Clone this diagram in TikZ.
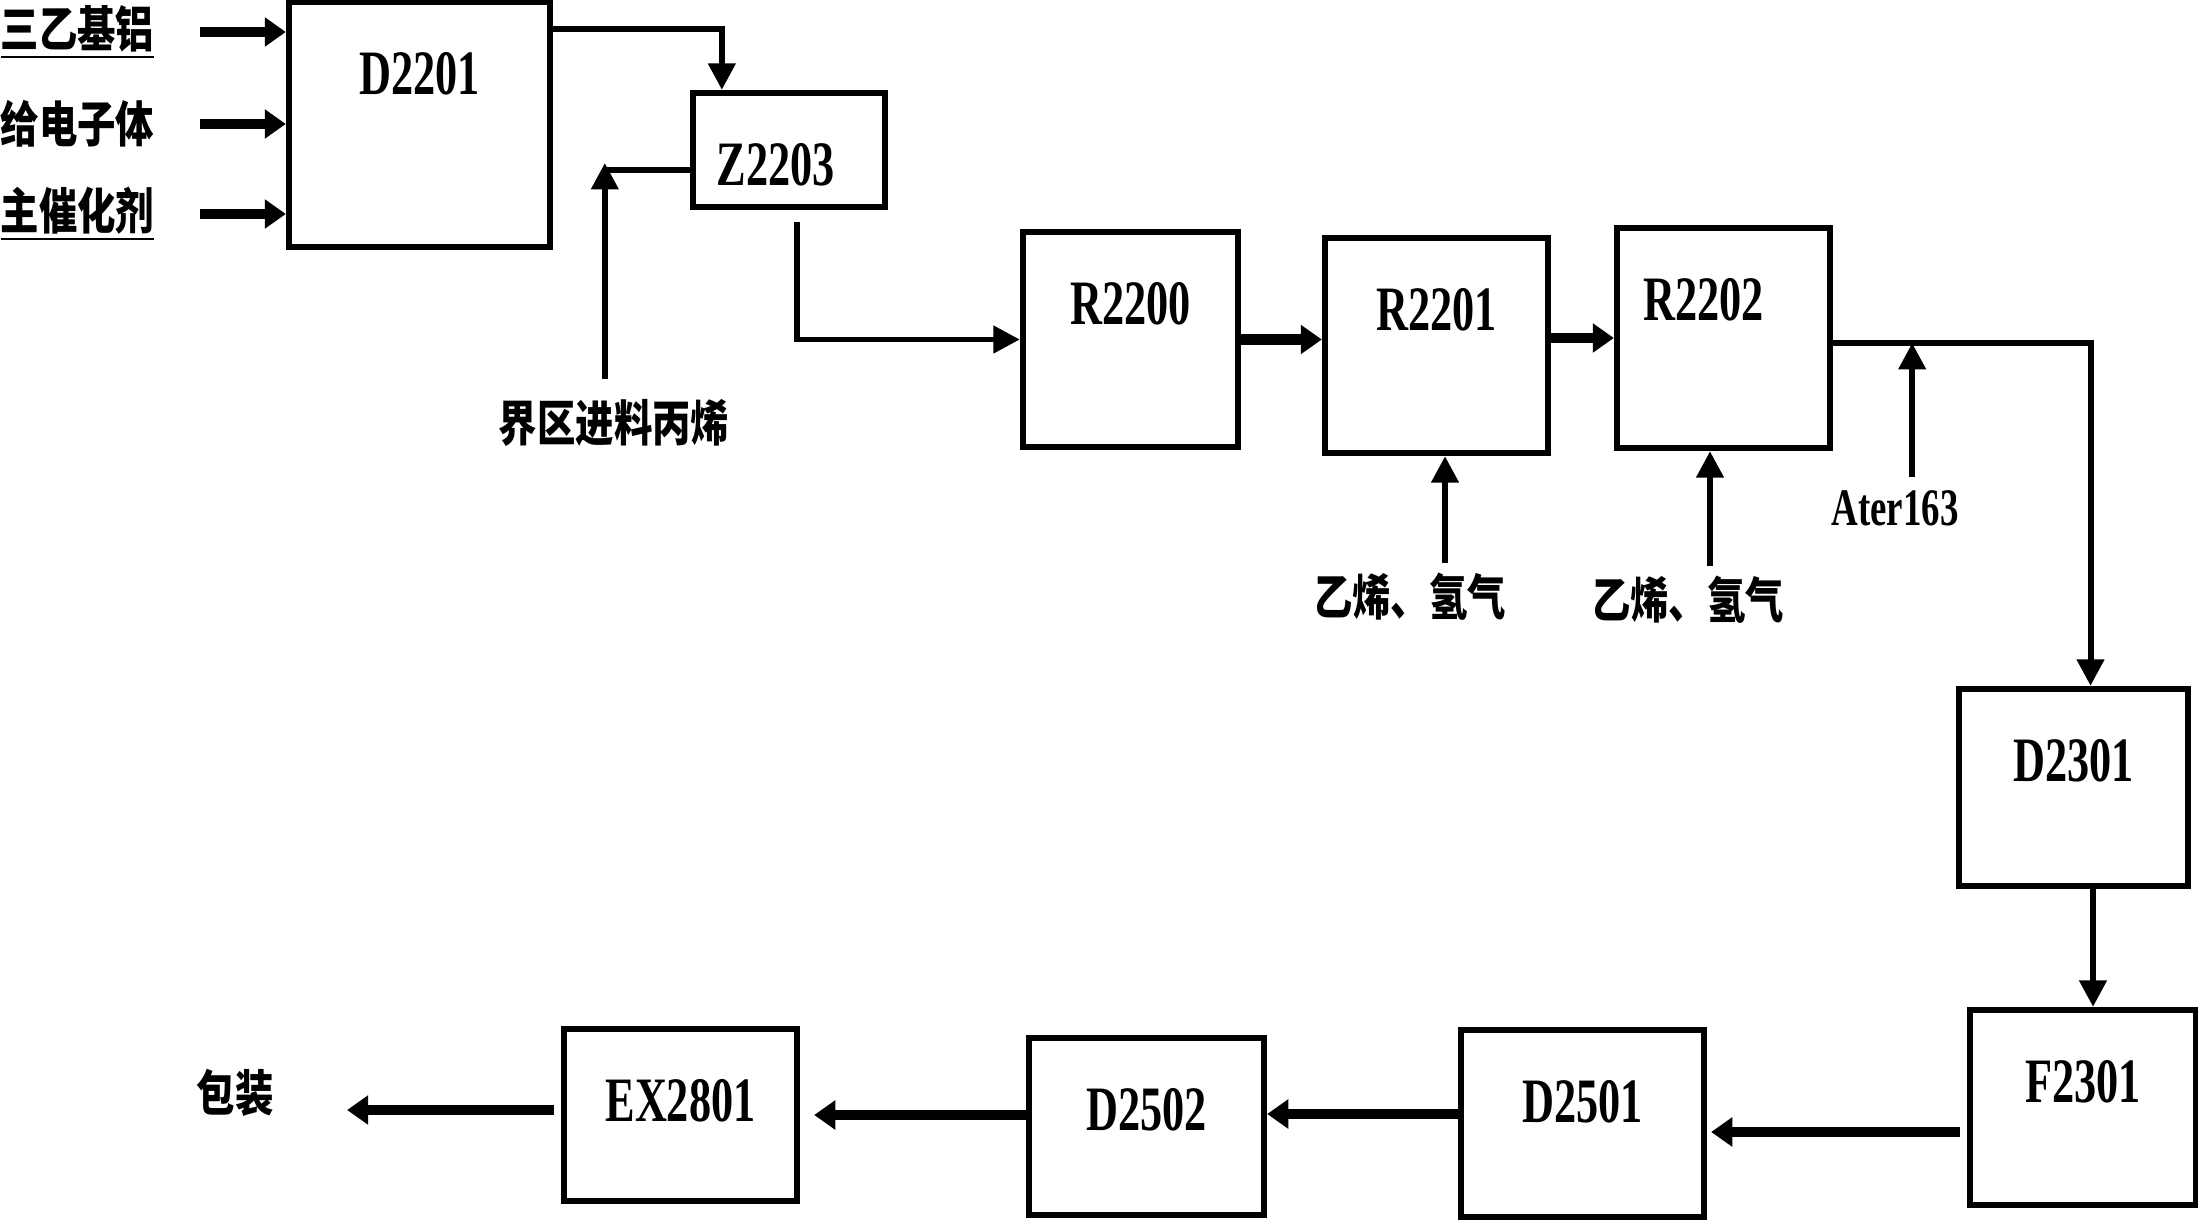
\documentclass[tikz,border=0pt]{standalone}
\usepackage{fontspec}
\setmainfont{Liberation Serif}
\newfontfamily\tagfont[FakeStretch=0.7]{Liberation Serif}
\newfontfamily\cjk[FakeStretch=0.78]{Noto Sans CJK SC}
\usetikzlibrary{arrows.meta, calc, positioning}

\begin{document}
\begin{tikzpicture}[x=0.1mm, y=-0.1mm,
        unit/.style={draw, line width=1.8pt, inner sep=0pt},
        tag/.style={font=\tagfont\bfseries\fontsize{18}{20}\selectfont, inner sep=0pt, anchor=north, yshift=-5.3mm},
        stream/.style={font=\cjk\bfseries\fontsize{14}{16}\selectfont, inner sep=0pt},
        pipe/.style={line width=1.7pt},
        pipearrow/.style={pipe, -{Triangle[length=7.5pt, width=7.5pt]}},
        bigflow/.style={line width=2.9pt, -{Triangle[length=6pt, width=8pt]}}]
    \useasboundingbox (0,0) rectangle (2198,1220);

    \node[unit, minimum width=26.1mm, minimum height=24.5mm, label={[tag]north:D2201}] (D2201) at (419.5,124.5) {};
    \node[unit, minimum width=19.2mm, minimum height=11.4mm, label={[tag, xshift=-1.3mm]north:Z2203}] (Z2203) at (789,150) {};
    \node[unit, minimum width=21.5mm, minimum height=21.5mm, label={[tag]north:R2200}] (R2200) at (1130.5,339.5) {};
    \node[unit, minimum width=22.3mm, minimum height=21.5mm, label={[tag]north:R2201}] (R2201) at (1436.5,345.5) {};
    \node[unit, minimum width=21.3mm, minimum height=22mm, label={[tag, xshift=-2mm]north:R2202}] (R2202) at (1723.5,338) {};
    \node[unit, minimum width=22.9mm, minimum height=19.7mm, label={[tag]north:D2301}] (D2301) at (2073.5,787.5) {};
    \node[unit, minimum width=22.6mm, minimum height=19.5mm, label={[tag]north:F2301}] (F2301) at (2083,1107.5) {};
    \node[unit, minimum width=24.3mm, minimum height=18.7mm, label={[tag]north:D2501}] (D2501) at (1582.5,1123.5) {};
    \node[unit, minimum width=23.5mm, minimum height=17.7mm, label={[tag]north:D2502}] (D2502) at (1146.5,1126.5) {};
    \node[unit, minimum width=23.3mm, minimum height=17.2mm, label={[tag]north:EX2801}] (EX2801) at (680.5,1115) {};

    \node[stream, anchor=west] (TEA) at (0,32) {\underline{三乙基铝}};
    \node[stream, anchor=west] (Donor) at (0,124) {给电子体};
    \node[stream, anchor=west] (Cat) at (0,214) {\underline{主催化剂}};
    \node[stream] (C3) at (614,423) {界区进料丙烯};
    \node[stream] (GasA) at (1410,597) {乙烯、氢气};
    \node[stream] (GasB) at (1688,600) {乙烯、氢气};
    \node[inner sep=0pt, font=\tagfont\bfseries\fontsize{15}{17}\selectfont] (Ater) at (1895,508) {Ater163};
    \node[stream] (Pack) at (235,1093) {包装};

    \draw[bigflow, shorten <=4.5mm] (TEA.east) -- (D2201.west |- TEA.east);
    \draw[bigflow, shorten <=4.5mm] (Donor.east) -- (D2201.west |- Donor.east);
    \draw[bigflow, shorten <=4.5mm] (Cat.east) -- (D2201.west |- Cat.east);

    \coordinate (TopIn) at ($(Z2203.north west)+(32,0)$);
    \draw[pipearrow] ($(D2201.north east)+(0,30)$) -| (TopIn);

    \coordinate (C3turn) at ($(Z2203.west)+(-85,20)$);
    \draw[pipearrow, shorten <=2mm, shorten >=-0.7mm] (C3.north -| C3turn) -- (C3turn);
    \draw[pipe] (C3turn) -- (Z2203.west |- C3turn);

    \draw[pipearrow] ($(Z2203.south)+(8,12)$) |- (R2200.west);
    \draw[bigflow] (R2200.east) -- (R2201.west |- R2200.east);
    \draw[bigflow] (R2201.east |- R2202.west) -- (R2202.west);

    \coordinate (GasAIn) at ($(R2201.south)+(8.5,0)$);
    \coordinate (GasBIn) at ($(R2202.south)+(-13.5,0)$);
    \draw[pipearrow, shorten <=1mm] (GasA.north -| GasAIn) -- (GasAIn);
    \draw[pipearrow, shorten <=1mm] (GasB.north -| GasBIn) -- (GasBIn);

    \coordinate (AterIn) at ($(R2202.east)+(79,5)$);
    \draw[pipearrow] ($(R2202.east)+(0,5)$) -| ($(D2301.north)+(17,0)$);
    \draw[pipearrow, shorten <=1.3mm] (Ater.north -| AterIn) -- (AterIn);

    \coordinate (DFout) at ($(D2301.south)+(19.5,0)$);
    \draw[pipearrow] (DFout) -- (DFout |- F2301.north);

    \draw[bigflow] ($(F2301.west)+(-7,24.5)$) -- ($(D2501.east)+(4,8.5)$);
    \draw[bigflow] ($(D2501.west)+(0,-9.5)$) -- ($(D2502.east)+(0,-12.5)$);
    \draw[bigflow] ($(D2502.west)+(0,-11.5)$) -- ($(EX2801.east)+(14,0)$);
    \draw[bigflow] ($(EX2801.west)+(-7,-5)$) -- ($(Pack.east)+(73,17)$);
\end{tikzpicture}
\end{document}
